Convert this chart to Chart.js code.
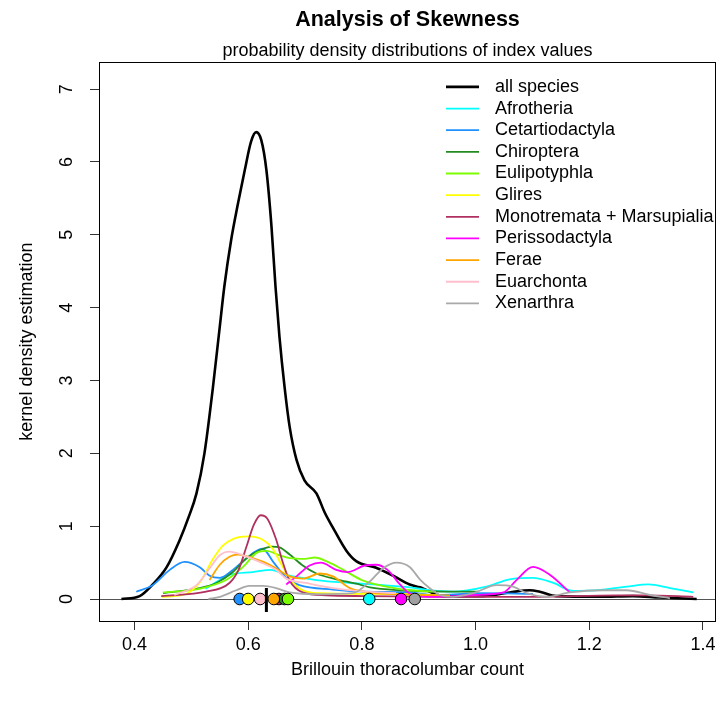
<!DOCTYPE html>
<html><head><meta charset="utf-8">
<script src="https://cdn.jsdelivr.net/npm/chart.js@4/dist/chart.umd.min.js"></script>
<style>html,body{margin:0;padding:0;background:#fff}</style>
</head><body>
<canvas id="c" width="717" height="708"></canvas>
<script>
// ---------- data ----------
const xTicks = [0.4, 0.6, 0.8, 1.0, 1.2, 1.4];
const yTicks = [0, 1, 2, 3, 4, 5, 6, 7];
const seriesLabels = ['all species','Afrotheria','Cetartiodactyla','Chiroptera','Eulipotyphla','Glires','Monotremata + Marsupialia','Perissodactyla','Ferae','Euarchonta','Xenarthra'];

const allX = [0.377,0.409,0.432,0.456,0.479,0.495,0.509,0.523,0.538,0.550,0.558,0.570,0.582,0.594,0.605,0.614,0.623,0.632,0.641,0.648,0.655,0.664,0.673,0.685,0.699,0.720,0.735,0.749,0.773,0.790,0.825,0.855,0.884,0.902,0.943,1.013,1.060,1.095,1.113,1.142,1.219,1.277,1.324,1.389];
const allY = [0.00,0.04,0.20,0.43,0.80,1.12,1.45,2.00,2.91,3.74,4.29,4.93,5.43,5.89,6.28,6.41,6.30,5.89,5.11,4.29,3.60,2.91,2.36,1.91,1.63,1.45,1.18,0.98,0.66,0.52,0.43,0.32,0.20,0.16,0.04,0.04,0.09,0.12,0.10,0.04,0.03,0.04,0.02,0.00];

const afroX = [0.525,0.550,0.567,0.608,0.640,0.667,0.720,0.779,0.837,0.884,0.920,0.960,1.019,1.060,1.101,1.137,1.172,1.224,1.266,1.304,1.342,1.383];
const afroY = [0.14,0.26,0.33,0.37,0.40,0.33,0.26,0.22,0.19,0.16,0.12,0.10,0.17,0.27,0.29,0.22,0.11,0.13,0.17,0.20,0.15,0.09];

const cetX = [0.403,0.432,0.462,0.488,0.514,0.532,0.550,0.573,0.597,0.625,0.645,0.667,0.690,0.749,0.808,0.884,0.925,1.013,1.101];
const cetY = [0.10,0.19,0.40,0.51,0.44,0.32,0.29,0.40,0.56,0.69,0.50,0.29,0.19,0.13,0.10,0.09,0.055,0.08,0.07];

const chirX = [0.450,0.514,0.544,0.573,0.597,0.620,0.642,0.655,0.673,0.696,0.720,0.755,0.790,0.814,0.867,0.950,1.005];
const chirY = [0.08,0.15,0.22,0.37,0.56,0.67,0.72,0.71,0.61,0.46,0.35,0.27,0.21,0.16,0.12,0.10,0.10];

const euliX = [0.450,0.514,0.561,0.591,0.614,0.632,0.655,0.673,0.700,0.717,0.740,0.765,0.800,0.843,0.884,0.930];
const euliY = [0.09,0.14,0.26,0.44,0.63,0.66,0.60,0.56,0.55,0.57,0.51,0.41,0.26,0.17,0.12,0.10];

const gliX = [0.447,0.485,0.514,0.538,0.555,0.575,0.600,0.624,0.643,0.658,0.675,0.696,0.726,0.800,0.870,0.950];
const gliY = [0.03,0.055,0.22,0.55,0.73,0.83,0.86,0.82,0.69,0.48,0.26,0.12,0.08,0.07,0.07,0.04];

const monoX = [0.447,0.526,0.567,0.583,0.597,0.610,0.622,0.634,0.649,0.661,0.673,0.696,0.737,0.808,0.950,1.100,1.250,1.300,1.383];
const monoY = [0.04,0.10,0.22,0.40,0.72,1.02,1.15,1.10,0.82,0.50,0.25,0.09,0.05,0.04,0.03,0.03,0.05,0.05,0.03];

const periX = [0.667,0.685,0.708,0.728,0.755,0.775,0.805,0.825,0.845,0.867,0.885,0.920,1.000,1.049,1.072,1.101,1.131,1.166];
const periY = [0.20,0.31,0.46,0.50,0.40,0.37,0.46,0.47,0.40,0.20,0.07,0.03,0.055,0.09,0.26,0.44,0.33,0.09];

const ferX = [0.532,0.550,0.567,0.582,0.608,0.638,0.673,0.696,0.726,0.749,0.779,0.814,0.880,0.955];
const ferY = [0.26,0.47,0.58,0.61,0.56,0.47,0.31,0.28,0.35,0.31,0.15,0.09,0.06,0.05];

const euaX = [0.470,0.509,0.532,0.550,0.567,0.591,0.620,0.649,0.667,0.702,0.749,0.808,0.860];
const euaY = [0.055,0.19,0.42,0.60,0.65,0.60,0.51,0.40,0.28,0.22,0.15,0.10,0.08];

const xenX = [0.530,0.550,0.579,0.602,0.626,0.649,0.673,0.726,0.784,0.814,0.837,0.861,0.884,0.902,0.919,0.937,0.960,0.996,1.037,1.066,1.090,1.125,1.166,1.224,1.266,1.307,1.342];
const xenY = [0.00,0.03,0.12,0.18,0.18,0.15,0.09,0.065,0.08,0.24,0.42,0.50,0.44,0.27,0.15,0.055,0.03,0.08,0.19,0.17,0.08,0.03,0.09,0.12,0.12,0.055,0.01];

// group centre values (dots on the baseline), same order as seriesLabels[1..]
const groupCentres = [0.813,0.585,0.664,0.670,0.600,0.654,0.869,0.645,0.621,0.893];
// all-species marker
const allCentre = 0.632;
const markerY = [0.15, -0.18];

// ---------- styling ----------
const palette = ['#000000','#00FFFF','#1E90FF','#228B22','#7CFC00','#FFFF00','#B03060','#FF00FF','#FFA500','#FFC0CB','#A9A9A9'];
const dotPalette = ['#000000','#00FFFF','#1E90FF','#228B22','#7CFC00','#FFFF00','#B03060','#FF00FF','#FFA500','#FFC0CB','#A0A0A0'];
const seriesX = [allX,afroX,cetX,chirX,euliX,gliX,monoX,periX,ferX,euaX,xenX];
const seriesY = [allY,afroY,cetY,chirY,euliY,gliY,monoY,periY,ferY,euaY,xenY];

const zip = (xs, ys) => xs.map((x, i) => ({x, y: ys[i]}));

const datasets = [];
seriesLabels.forEach((lab, i) => {
  datasets.push({
    type: 'line', label: lab, data: zip(seriesX[i], seriesY[i]),
    borderColor: palette[i], backgroundColor: palette[i],
    borderWidth: i === 0 ? 2.6 : 1.8, pointRadius: 0, fill: false,
    cubicInterpolationMode: 'monotone', order: i === 0 ? 50 : 40 - i, showInLegend: true
  });
});
const dotOrder = [1, 2, 5, 9, 6, 3, 8, 4, 7, 10];
datasets.push({
  type: 'line', label: 'centres', showLine: false,
  data: dotOrder.map(g => ({x: groupCentres[g - 1], y: 0})),
  pointRadius: 5.8, pointBorderWidth: 1, pointBorderColor: '#000',
  pointBackgroundColor: dotOrder.map(g => dotPalette[g]), order: 2
});
datasets.push({
  type: 'line', label: 'all centre', data: markerY.map(y => ({x: allCentre, y})),
  borderColor: '#000', borderWidth: 3, pointRadius: 0, order: 1
});

const FONT = '"Liberation Sans", Arial, Helvetica, sans-serif';
const FS = 18;
Chart.defaults.font.family = FONT;
Chart.defaults.color = '#000';

const framePlugin = {
  id: 'frame',
  beforeDatasetsDraw(chart) {
    const ctx = chart.ctx, a = chart.chartArea, y0 = chart.scales.y.getPixelForValue(0);
    ctx.save();
    ctx.strokeStyle = '#555'; ctx.lineWidth = 1;
    ctx.beginPath(); ctx.moveTo(a.left, Math.round(y0) + 0.5); ctx.lineTo(a.right, Math.round(y0) + 0.5); ctx.stroke();
    ctx.restore();
  },
  afterDraw(chart) {
    const ctx = chart.ctx, a = chart.chartArea;
    ctx.save();
    ctx.strokeStyle = '#000'; ctx.lineWidth = 1;
    ctx.strokeRect(Math.round(a.left) + 0.5, Math.round(a.top) + 0.5, Math.round(a.right - a.left) - 1, Math.round(a.bottom - a.top));
    const items = chart.data.datasets.filter(d => d.showInLegend);
    ctx.font = FS + 'px ' + FONT; ctx.textBaseline = 'middle'; ctx.fillStyle = '#000'; ctx.textAlign = 'left';
    items.forEach((d, i) => {
      const y = a.top + 24.7 + i * 21.65;
      ctx.strokeStyle = d.borderColor; ctx.lineWidth = d.borderWidth;
      ctx.beginPath(); ctx.moveTo(a.right - 270, y); ctx.lineTo(a.right - 237, y); ctx.stroke();
      ctx.fillText(d.label, a.right - 221, y);
    });
    ctx.restore();
  }
};

new Chart(document.getElementById('c'), {
  type: 'line',
  data: { datasets },
  options: {
    responsive: false, animation: false, devicePixelRatio: 1, events: [],
    layout: { autoPadding: false, padding: { left: 0, right: 1, top: 0, bottom: 0 } },
    plugins: {
      legend: { display: false }, tooltip: { enabled: false },
      title: { display: true, text: 'Analysis of Skewness', fullSize: false, color: '#000',
               font: { size: 21.5, weight: 'bold', family: FONT }, padding: { top: 6.8, bottom: 8.0 } },
      subtitle: { display: true, text: 'probability density distributions of index values', fullSize: false, color: '#000',
               font: { size: FS, family: FONT }, padding: { top: 0, bottom: 0 } }
    },
    scales: {
      x: {
        type: 'linear', min: 0.3375, max: 1.423,
        afterBuildTicks: s => { s.ticks = xTicks.map(v => ({ value: v })); },
        ticks: { autoSkip: false, maxRotation: 0, padding: 4, font: { size: FS }, color: '#000', callback: v => Number(v).toFixed(1) },
        grid: { drawOnChartArea: false, drawTicks: true, tickLength: 9, color: '#333' },
        border: { display: false },
        title: { display: true, text: 'Brillouin thoracolumbar count', font: { size: FS }, color: '#000', padding: { top: 0, bottom: 27.2 } },
        afterFit: s => { s.height = 87; s.paddingLeft = 0; s.paddingRight = 0; }
      },
      y: {
        type: 'linear', min: -0.302, max: 7.37,
        afterBuildTicks: s => { s.ticks = yTicks.map(v => ({ value: v })); },
        ticks: { autoSkip: false, minRotation: 90, maxRotation: 90, crossAlign: 'center', padding: 18, font: { size: FS }, color: '#000', callback: v => String(v) },
        grid: { drawOnChartArea: false, drawTicks: true, tickLength: 9, color: '#333' },
        border: { display: false },
        title: { display: true, text: 'kernel density estimation', font: { size: FS }, color: '#000', padding: { top: 16.2, bottom: 0 } },
        afterFit: s => { s.width = 99; s.paddingTop = 0; s.paddingBottom = 0; }
      }
    }
  },
  plugins: [framePlugin]
});
</script>
</body></html>
